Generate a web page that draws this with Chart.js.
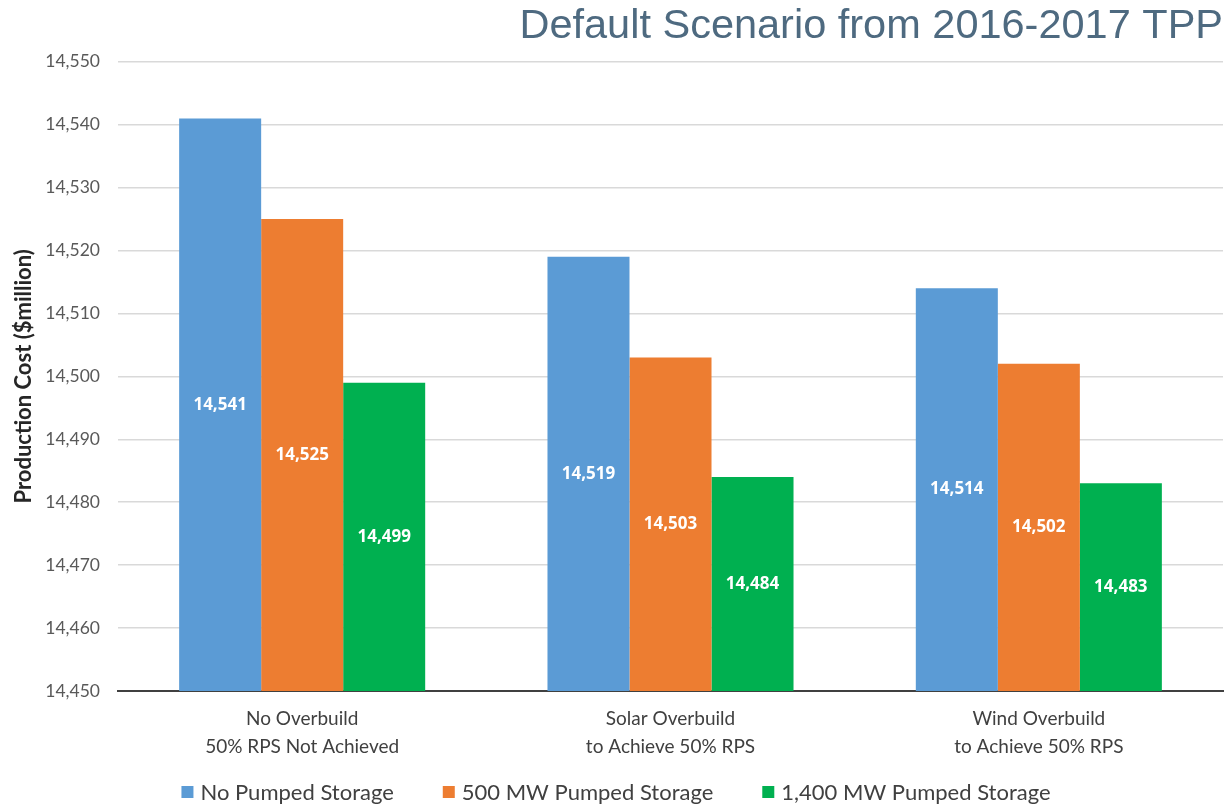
<!DOCTYPE html>
<html>
<head>
<meta charset="utf-8">
<script src="https://cdn.jsdelivr.net/npm/chart.js@4"></script>
<style>
  html, body { margin: 0; padding: 0; background: #ffffff; }
</style>
</head>
<body>
<canvas id="chart" width="1232" height="807"></canvas>
<script>
// Scenario groups (two-line category labels)
const categories = [
  ["No Overbuild", "50% RPS Not Achieved"],
  ["Solar Overbuild", "to Achieve 50% RPS"],
  ["Wind Overbuild", "to Achieve 50% RPS"]
];

// Series names and values, production cost in $million
const seriesNames = ["No Pumped Storage", "500 MW Pumped Storage", "1,400 MW Pumped Storage"];
const noPumpedStorage = [14541, 14519, 14514];
const pumped500MW = [14525, 14503, 14502];
const pumped1400MW = [14499, 14484, 14483];

// Value axis range and step
const yMin = 14450;
const yMax = 14550;
const yStep = 10;

const seriesColors = ["#5B9BD5", "#ED7D31", "#00B050"];
const seriesValues = [noPumpedStorage, pumped500MW, pumped1400MW];

const fmt = v => Number(v).toLocaleString("en-US");

// White value labels centred inside each bar
const barValueLabels = {
  id: "barValueLabels",
  afterDraw(chart) {
    const ctx = chart.ctx;
    const yScale = chart.scales.y;
    const bottom = yScale.getPixelForValue(yScale.min);
    ctx.save();
    ctx.font = "bold 17px 'Open Sans'";
    ctx.fillStyle = "#ffffff";
    ctx.textAlign = "center";
    ctx.textBaseline = "middle";
    chart.data.datasets.forEach((ds, i) => {
      chart.getDatasetMeta(i).data.forEach((bar, j) => {
        const top = yScale.getPixelForValue(ds.data[j]);
        ctx.fillText(fmt(ds.data[j]), bar.x, (top + bottom) / 2);
      });
    });
    ctx.restore();
  }
};

// Legend row under the axis, drawn from the dataset names and colours
const legendRow = {
  id: "legendRow",
  afterDraw(chart) {
    const ctx = chart.ctx;
    const box = 12, gapText = 7, gapItem = 49, cy = 792;
    ctx.save();
    ctx.font = "22px Lato";
    ctx.textBaseline = "middle";
    ctx.textAlign = "left";
    const items = chart.data.datasets.map(ds => ({ text: ds.label, color: ds.backgroundColor, w: ctx.measureText(ds.label).width }));
    const total = items.reduce((s, it) => s + box + gapText + it.w, 0) + gapItem * (items.length - 1);
    let x = chart.width / 2 - total / 2;
    items.forEach(it => {
      ctx.fillStyle = it.color;
      ctx.fillRect(x, cy - box / 2, box, box);
      ctx.fillStyle = "#404040";
      ctx.fillText(it.text, x + box + gapText, cy + 1);
      x += box + gapText + it.w + gapItem;
    });
    ctx.restore();
  }
};

new Chart(document.getElementById("chart"), {
  type: "bar",
  data: {
    labels: categories,
    datasets: seriesNames.map((name, i) => ({
      label: name,
      data: seriesValues[i],
      backgroundColor: seriesColors[i],
      borderWidth: 0,
      categoryPercentage: 0.668,
      barPercentage: 1.0
    }))
  },
  options: {
    responsive: false,
    devicePixelRatio: 1,
    animation: false,
    layout: { padding: { left: 0, right: 9, top: 0, bottom: 32 } },
    plugins: {
      title: {
        display: true,
        text: "Default Scenario from 2016-2017 TPP",
        align: "end",
        color: "#4E6A80",
        font: { family: "'Liberation Sans', Arial, sans-serif", size: 41.5, weight: "normal" },
        padding: { top: 2, bottom: 10 }
      },
      legend: { display: false },
      tooltip: { enabled: false }
    },
    scales: {
      x: {
        grid: { display: false, drawTicks: false },
        border: { display: true, color: "#404040", width: 2 },
        ticks: {
          color: "#404040",
          font: { family: "Lato", size: 19, lineHeight: 28 / 19 },
          padding: 14,
          maxRotation: 0
        }
      },
      y: {
        min: yMin,
        max: yMax,
        border: { display: false },
        grid: { color: "#D9D9D9", lineWidth: 1.5, drawTicks: false },
        ticks: {
          stepSize: yStep,
          color: "#595959",
          font: { family: "Lato", size: 17.5 },
          padding: 18,
          callback: v => fmt(v)
        },
        title: {
          display: true,
          text: "Production Cost ($million)",
          color: "#262626",
          font: { family: "Lato", size: 22, weight: "bold" },
          padding: { top: 11, bottom: 0 }
        },
        afterFit(scale) { scale.width = 118; }
      }
    }
  },
  plugins: [barValueLabels, legendRow]
});
</script>
</body>
</html>
